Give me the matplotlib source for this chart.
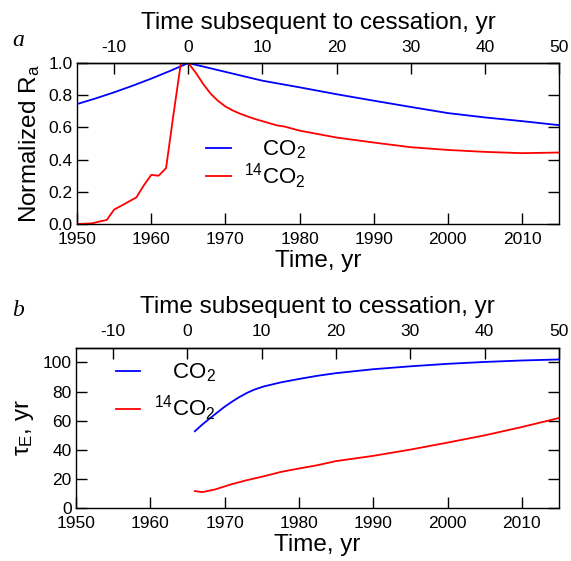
import matplotlib
matplotlib.use("Agg")
import matplotlib.pyplot as plt
import numpy as np

# panel a: normalized R_a
co2_years_a = [1950, 1952.5, 1955, 1957.5, 1960, 1962.5, 1965, 1967, 1970, 1975, 1980,
               1985, 1990, 1995, 2000, 2005, 2010, 2015]
co2_ra = [0.745, 0.78, 0.818, 0.859, 0.903, 0.95, 1.0, 0.978, 0.945, 0.89, 0.849,
          0.806, 0.766, 0.727, 0.689, 0.662, 0.639, 0.614]

c14_years_a = [1950, 1952, 1953, 1954, 1955, 1956, 1957, 1958, 1959, 1960, 1961, 1962,
               1963, 1964, 1965, 1966, 1967, 1968, 1969, 1970, 1971, 1972, 1973, 1974,
               1977, 1978, 1980, 1985, 1990, 1995, 2000, 2005, 2010, 2015]
c14_ra = [0.0, 0.004, 0.015, 0.025, 0.09, 0.114, 0.14, 0.165, 0.24, 0.305, 0.30, 0.347,
          0.68, 1.0, 1.0, 0.94, 0.87, 0.81, 0.765, 0.73, 0.705, 0.685, 0.668, 0.652,
          0.612, 0.605, 0.58, 0.537, 0.506, 0.477, 0.46, 0.448, 0.44, 0.444]

# panel b: tau_E
co2_years_b = [1966, 1967, 1968, 1969, 1970, 1971, 1972, 1973, 1974, 1975.3, 1977.6,
               1980, 1982.5, 1985, 1990, 1995, 2000, 2005, 2010, 2015]
co2_tau = [52.7, 57.3, 61.5, 65.5, 69.5, 73, 76.2, 79, 81.3, 83.5, 86.3, 88.6, 90.8,
           92.6, 95.3, 97.3, 99, 100.3, 101.3, 102]

c14_years_b = [1966, 1967, 1968.7, 1971, 1973, 1975.3, 1977.6, 1980, 1982.5, 1985, 1990,
               1995, 2000, 2005, 2010, 2015]
c14_tau = [11.6, 10.9, 12.7, 16.4, 19.1, 21.8, 24.8, 27.1, 29.4, 32.2, 35.8, 40.1, 44.9,
           49.9, 55.6, 61.8]

cessation = 1965
x_ticks = [1950, 1960, 1970, 1980, 1990, 2000, 2010]
top_ticks = [-10, 0, 10, 20, 30, 40, 50]

plt.rcParams.update({
    "font.family": "Liberation Sans",
    "font.size": 12,
    "axes.unicode_minus": False,
    "mathtext.fontset": "custom",
    "mathtext.rm": "Liberation Sans",
    "mathtext.it": "Liberation Sans:italic",
    "axes.linewidth": 1.0,
})

fig = plt.figure(figsize=(5.71, 5.61), dpi=100)
ax_a = fig.add_axes([0.135, 0.6007, 0.844, 0.287])
ax_b = fig.add_axes([0.133, 0.0945, 0.846, 0.2855])


def style(ax):
    ax.set_xlim(1950, 2015)
    ax.set_xticks(x_ticks)
    ax.tick_params(direction="in", length=8, width=1, top=False, right=True,
                   labelsize=12.5)
    ax.tick_params(axis="x", pad=6)
    ax.tick_params(axis="y", pad=3)
    sec = ax.secondary_xaxis("top", functions=(lambda t: t - cessation,
                                               lambda s: s + cessation))
    sec.set_xticks(top_ticks)
    sec.tick_params(direction="in", length=8, width=1, labelsize=12.5, pad=6)
    sec.set_xlabel("Time subsequent to cessation, yr", fontsize=17.5, labelpad=8)
    ax.set_xlabel("Time, yr", fontsize=17.5, labelpad=2)


ax_a.plot(co2_years_a, co2_ra, color="#0000ff", lw=1.3, label="   CO$_2$")
ax_a.plot(c14_years_a, c14_ra, color="#ff0000", lw=1.3, label="$^{14}$CO$_2$")
ax_a.set_ylim(0, 1.0)
ax_a.set_yticks(np.arange(0, 1.01, 0.2))
ax_a.set_yticklabels([f"{v:.1f}" for v in np.arange(0, 1.01, 0.2)])
ax_a.set_ylabel("Normalized R$_\\mathrm{a}$", fontsize=17.5, labelpad=5)
style(ax_a)
ax_a.legend(loc="upper left", bbox_to_anchor=(0.245, 0.6), frameon=False, fontsize=16,
            handlelength=1.1, handletextpad=0.6, labelspacing=0.0, borderpad=0)

ax_b.plot(co2_years_b, co2_tau, color="#0000ff", lw=1.3, label="   CO$_2$")
ax_b.plot(c14_years_b, c14_tau, color="#ff0000", lw=1.3, label="$^{14}$CO$_2$")
ax_b.set_ylim(0, 110)
ax_b.set_yticks([0, 20, 40, 60, 80, 100])
ax_b.set_ylabel("τ$_\\mathrm{E}$, yr", fontsize=17.5, labelpad=5)
style(ax_b)
ax_b.legend(loc="upper left", bbox_to_anchor=(0.06, 0.985), frameon=False, fontsize=16,
            handlelength=1.1, handletextpad=0.6, labelspacing=0.45, borderpad=0)

fig.text(0.022, 0.918, "a", fontsize=17, style="italic", family="Liberation Serif")
fig.text(0.022, 0.437, "b", fontsize=17, style="italic", family="Liberation Serif")

fig.savefig("out.png", dpi=100)
